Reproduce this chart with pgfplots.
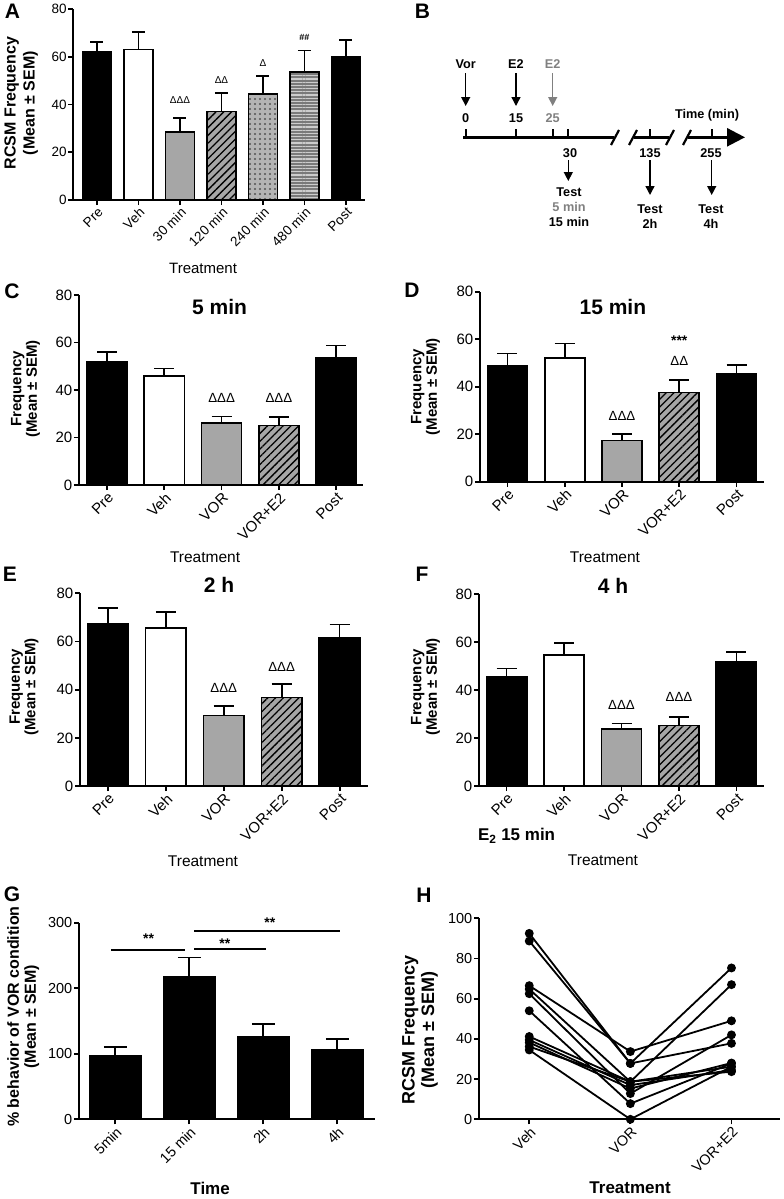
\documentclass[border=0pt]{standalone}
\usepackage{fontspec}
\setmainfont{Liberation Sans}
\usepackage{pgfplots}
\pgfplotsset{compat=1.18}
\usetikzlibrary{patterns.meta,arrows.meta}
\definecolor{bargray}{HTML}{A6A6A6}
\definecolor{midgray}{HTML}{808080}
\definecolor{dotbg}{HTML}{B4B4B4}
\definecolor{hlbg}{HTML}{7A7A7A}
\newcommand{\fs}[1]{\fontsize{#1}{#1}\selectfont}

\pgfplotsset{
  prism/.style={
    scale only axis,
    axis x line*=bottom, axis y line*=left,
    axis line style={line width=1.8pt,-},
    tick align=outside,
    major tick length=5pt,
    tick style={line width=1.8pt,black},
    enlargelimits=false,
    clip=false,
    /pgf/number format/assume math mode=true,
    xticklabel style={rotate=45,anchor=north east,inner sep=1pt},
    yticklabel style={inner sep=1.5pt},
    ylabel style={align=center,anchor=center},
    xlabel style={anchor=center},
    bar width=0.70,
  },
  pbar/.style={ybar, bar shift=0pt, draw=black, line width=1.7pt,
     /pgfplots/error bars/y dir=plus, /pgfplots/error bars/y explicit,
     /pgfplots/error bars/error bar style={line width=1.7pt,black,solid},
     /pgfplots/error bars/error mark options={rotate=90,line width=1.7pt,black,mark size=#1}},
  patbar/.style={ybar, bar shift=0pt, draw=black, line width=1.7pt},
  stripe/.style={patbar, pattern={Lines[angle=45,distance=5.5pt,line width=1.3pt]}, pattern color=black},
}

\begin{document}
\begin{tikzpicture}
\path[use as bounding box] (0,0) rectangle (784pt,-1199pt);

% panel letters
\begin{scope}[every node/.style={font=\bfseries\fs{21}}]
\node at (12.5pt,-11.7pt) {A};
\node at (422.5pt,-11.7pt) {B};
\node at (12pt,-291pt) {C};
\node at (412pt,-290pt) {D};
\node at (10pt,-574.5pt) {E};
\node at (422pt,-574.5pt) {F};
\node at (12pt,-894pt) {G};
\node at (424pt,-895.5pt) {H};
\end{scope}

%================ A
\begin{axis}[prism, at={(73.3pt,-200pt)}, anchor=south west,
  width=291.7pt, height=191.2pt,
  xmin=-0.571, xmax=6.458, ymin=0, ymax=80, ytick={0,20,40,60,80},
  xtick={0,...,6}, xticklabels={Pre,Veh,30 min,120 min,240 min,480 min,Post},
  tick label style={font=\fs{13.5}},
  xlabel={Treatment}, xlabel style={font=\fs{15}, at={(axis description cs:0.445,-0.356)}},
  ylabel={RCSM Frequency\\(Mean ± SEM)},
  ylabel style={font=\bfseries\fontsize{16}{19}\selectfont, at={(axis description cs:-0.179,0.507)}}]
\addplot[pbar=6.5pt, fill=black] coordinates {(0,62.0) +- (0,4.2)};
\addplot[pbar=6.5pt, fill=white] coordinates {(1,63.0) +- (0,7.4)};
\addplot[pbar=6.5pt, fill=bargray] coordinates {(2,28.5) +- (0,5.7)};
\addplot[pbar=6.5pt, fill=bargray] coordinates {(3,37.0) +- (0,7.9)};
\addplot[stripe] coordinates {(3,37.0)};
\addplot[pbar=6.5pt, fill=dotbg] coordinates {(4,44.4) +- (0,7.6)};
\addplot[patbar, pattern={Dots[distance=5pt,radius=1.05pt]}, pattern color=black!68] coordinates {(4,44.4)};
\addplot[pbar=6.5pt, fill=hlbg] coordinates {(5,53.6) +- (0,8.9)};
\addplot[patbar, pattern={Lines[angle=0,distance=3.2pt,line width=1.2pt]}, pattern color=white!80!black] coordinates {(5,53.6)};
\addplot[pbar=6.5pt, fill=black] coordinates {(6,60.0) +- (0,7.0)};
\node[font=\fs{10}] at (axis cs:2,42) {ΔΔΔ};
\node[font=\fs{10}] at (axis cs:3,50) {ΔΔ};
\node[font=\fs{10}] at (axis cs:4,57.2) {Δ};
\node[font=\bfseries\fs{9}] at (axis cs:5,68.2) {\#\#};
\end{axis}

%================ B
\begin{axis}[at={(400pt,0pt)}, anchor=north west, scale only axis,
  width=384pt, height=280pt, xmin=400, xmax=784, ymin=0, ymax=280,
  y dir=reverse, hide axis, clip=false]
\addplot[line width=2.6pt] coordinates {(463.3,137.3) (614,137.3)};
\addplot[line width=2.6pt] coordinates {(634,137.3) (669,137.3)};
\addplot[line width=2.6pt, -{Triangle[length=18pt,width=18pt]}] coordinates {(688,137.3) (745,137.3)};
\addplot[line width=2.2pt] coordinates {(611,145) (619,130)};
\addplot[line width=2.2pt] coordinates {(629,145) (637,130)};
\addplot[line width=2.2pt] coordinates {(666,145) (674,130)};
\addplot[line width=2.2pt] coordinates {(683,145) (691,130)};
\addplot[line width=2.2pt] coordinates {(465.7,137.3) (465.7,128.5)};
\addplot[line width=2.2pt] coordinates {(516,137.3) (516,128.5)};
\addplot[line width=2.2pt] coordinates {(552.7,137.3) (552.7,128.5)};
\addplot[line width=2.2pt] coordinates {(568.3,137.3) (568.3,128.5)};
\addplot[line width=2.2pt] coordinates {(650,137.3) (650,128.5)};
\addplot[line width=2.2pt] coordinates {(711.7,137.3) (711.7,128.5)};
\addplot[line width=1.4pt, -{Triangle[length=9pt,width=9pt]}] coordinates {(465.7,73) (465.7,106)};
\addplot[line width=1.4pt, -{Triangle[length=9pt,width=9pt]}] coordinates {(516,73) (516,106)};
\addplot[line width=1.4pt, midgray, -{Triangle[length=9pt,width=9pt]}] coordinates {(552.7,73) (552.7,106)};
\addplot[line width=1.4pt, -{Triangle[length=9pt,width=9pt]}] coordinates {(568.3,160) (568.3,181)};
\addplot[line width=1.4pt, -{Triangle[length=9pt,width=9pt]}] coordinates {(650,160) (650,195)};
\addplot[line width=1.4pt, -{Triangle[length=9pt,width=9pt]}] coordinates {(711.7,160) (711.7,195)};
\begin{scope}[every node/.style={font=\bfseries\fs{12.7}}]
\node at (axis cs:465.7,64) {Vor};
\node at (axis cs:516,64) {E2};
\node[text=midgray] at (axis cs:552.7,64) {E2};
\node at (axis cs:465.7,118) {0};
\node at (axis cs:516,118) {15};
\node[text=midgray] at (axis cs:552.7,118) {25};
\node at (axis cs:707,115) {Time (min)};
\node at (axis cs:570,153) {30};
\node at (axis cs:650,153) {135};
\node at (axis cs:711,153) {255};
\node at (axis cs:569,191.7) {Test};
\node[text=midgray] at (axis cs:569,206.7) {5 min};
\node at (axis cs:569,221.7) {15 min};
\node at (axis cs:650,209.3) {Test};
\node at (axis cs:650,224) {2h};
\node at (axis cs:711,209.3) {Test};
\node at (axis cs:711,224) {4h};
\end{scope}
\end{axis}

%================ C
\begin{axis}[prism, at={(79pt,-485pt)}, anchor=south west,
  width=284pt, height=190pt,
  xmin=-0.49, xmax=4.47, ymin=0, ymax=80, ytick={0,20,40,60,80},
  xtick={0,...,4}, xticklabels={Pre,Veh,VOR,VOR+E2,Post},
  tick label style={font=\fs{15}},
  xlabel={Treatment}, xlabel style={font=\fs{15.5}, at={(axis description cs:0.444,-0.379)}},
  ylabel={Frequency\\(Mean ± SEM)},
  ylabel style={font=\bfseries\fontsize{15}{15.5}\selectfont, at={(axis description cs:-0.188,0.505)}},
  title={5 min}, title style={font=\bfseries\fs{21}, at={(axis description cs:0.495,0.905)}, anchor=center}]
\addplot[pbar=10pt, fill=black] coordinates {(0,51.8) +- (0,4.2)};
\addplot[pbar=10pt, fill=white] coordinates {(1,46.0) +- (0,3.0)};
\addplot[pbar=10pt, fill=bargray] coordinates {(2,26.0) +- (0,2.8)};
\addplot[pbar=10pt, fill=bargray] coordinates {(3,25.1) +- (0,3.4)};
\addplot[stripe] coordinates {(3,25.1)};
\addplot[pbar=10pt, fill=black] coordinates {(4,53.6) +- (0,5.1)};
\node[font=\fs{13.3}] at (axis cs:2,36.5) {ΔΔΔ};
\node[font=\fs{13.3}] at (axis cs:3,36.5) {ΔΔΔ};
\end{axis}

%================ D
\begin{axis}[prism, at={(480pt,-481.7pt)}, anchor=south west,
  width=284pt, height=190pt,
  xmin=-0.48, xmax=4.48, ymin=0, ymax=80, ytick={0,20,40,60,80},
  xtick={0,...,4}, xticklabels={Pre,Veh,VOR,VOR+E2,Post},
  tick label style={font=\fs{15}},
  xlabel={Treatment}, xlabel style={font=\fs{15.5}, at={(axis description cs:0.44,-0.396)}},
  ylabel={Frequency\\(Mean ± SEM)},
  ylabel style={font=\bfseries\fontsize{15}{15.5}\selectfont, at={(axis description cs:-0.192,0.5)}},
  title={15 min}, title style={font=\bfseries\fs{21}, at={(axis description cs:0.468,0.89)}, anchor=center}]
\addplot[pbar=10pt, fill=black] coordinates {(0,48.7) +- (0,5.3)};
\addplot[pbar=10pt, fill=white] coordinates {(1,52.2) +- (0,6.0)};
\addplot[pbar=10pt, fill=bargray] coordinates {(2,17.4) +- (0,2.7)};
\addplot[pbar=10pt, fill=bargray] coordinates {(3,37.6) +- (0,5.2)};
\addplot[stripe] coordinates {(3,37.6)};
\addplot[pbar=10pt, fill=black] coordinates {(4,45.3) +- (0,3.7)};
\node[font=\fs{13.3}] at (axis cs:2,27.6) {ΔΔΔ};
\node[font=\fs{13.3}] at (axis cs:3,50.8) {ΔΔ};
\node[font=\bfseries\fs{14}] at (axis cs:3,59.5) {***};
\end{axis}

%================ E
\begin{axis}[prism, at={(80pt,-786pt)}, anchor=south west,
  width=288pt, height=192.7pt,
  xmin=-0.48, xmax=4.49, ymin=0, ymax=80, ytick={0,20,40,60,80},
  xtick={0,...,4}, xticklabels={Pre,Veh,VOR,VOR+E2,Post},
  tick label style={font=\fs{15}},
  xlabel={Treatment}, xlabel style={font=\fs{15.5}, at={(axis description cs:0.427,-0.393)}},
  ylabel={Frequency\\(Mean ± SEM)},
  ylabel style={font=\bfseries\fontsize{15}{15.5}\selectfont, at={(axis description cs:-0.194,0.514)}},
  title={2 h}, title style={font=\bfseries\fs{21}, at={(axis description cs:0.483,1.015)}, anchor=center}]
\addplot[pbar=10pt, fill=black] coordinates {(0,67.3) +- (0,6.7)};
\addplot[pbar=10pt, fill=white] coordinates {(1,65.7) +- (0,6.5)};
\addplot[pbar=10pt, fill=bargray] coordinates {(2,29.3) +- (0,3.9)};
\addplot[pbar=10pt, fill=bargray] coordinates {(3,36.8) +- (0,5.6)};
\addplot[stripe] coordinates {(3,36.8)};
\addplot[pbar=10pt, fill=black] coordinates {(4,61.6) +- (0,5.4)};
\node[font=\fs{13.3}] at (axis cs:2,40.8) {ΔΔΔ};
\node[font=\fs{13.3}] at (axis cs:3,49.6) {ΔΔΔ};
\end{axis}

%================ F
\begin{axis}[prism, at={(479pt,-786pt)}, anchor=south west,
  width=285pt, height=191.7pt,
  xmin=-0.48, xmax=4.48, ymin=0, ymax=80, ytick={0,20,40,60,80},
  xtick={0,...,4}, xticklabels={Pre,Veh,VOR,VOR+E2,Post},
  tick label style={font=\fs{15}},
  xlabel={Treatment}, xlabel style={font=\fs{15.5}, at={(axis description cs:0.435,-0.386)}},
  ylabel={Frequency\\(Mean ± SEM)},
  ylabel style={font=\bfseries\fontsize{15}{15.5}\selectfont, at={(axis description cs:-0.188,0.516)}},
  title={4 h}, title style={font=\bfseries\fs{21}, at={(axis description cs:0.47,1.015)}, anchor=center}]
\addplot[pbar=10pt, fill=black] coordinates {(0,45.6) +- (0,3.5)};
\addplot[pbar=10pt, fill=white] coordinates {(1,54.8) +- (0,5.0)};
\addplot[pbar=10pt, fill=bargray] coordinates {(2,23.8) +- (0,2.3)};
\addplot[pbar=10pt, fill=bargray] coordinates {(3,25.2) +- (0,3.7)};
\addplot[stripe] coordinates {(3,25.2)};
\addplot[pbar=10pt, fill=black] coordinates {(4,51.7) +- (0,4.3)};
\node[font=\fs{13.3}] at (axis cs:2,33.8) {ΔΔΔ};
\node[font=\fs{13.3}] at (axis cs:3,37.3) {ΔΔΔ};
\node[font=\bfseries\fs{17}] at (axis description cs:0.132,-0.261) {E\textsubscript{2} 15 min};
\end{axis}

%================ G
\begin{axis}[prism, at={(79pt,-1119.3pt)}, anchor=south west,
  width=296pt, height=196.7pt,
  xmin=-0.49, xmax=3.51, ymin=0, ymax=300, ytick={0,100,200,300},
  xtick={0,...,3}, xticklabels={5min,15 min,2h,4h},
  tick label style={font=\fs{14.5}},
  xlabel={Time}, xlabel style={font=\bfseries\fs{17}, at={(axis description cs:0.443,-0.349)}},
  ylabel={\% behavior of VOR condition\\(Mean ± SEM)},
  ylabel style={font=\bfseries\fontsize{16}{17}\selectfont, at={(axis description cs:-0.188,0.522)}}]
\addplot[pbar=11.5pt, fill=black] coordinates {(0,96.6) +- (0,13.2)};
\addplot[pbar=11.5pt, fill=black] coordinates {(1,217.6) +- (0,29.0)};
\addplot[pbar=11.5pt, fill=black] coordinates {(2,126.1) +- (0,18.8)};
\addplot[pbar=11.5pt, fill=black] coordinates {(3,105.8) +- (0,16.7)};
\addplot[line width=1.8pt] coordinates {(-0.057,258.3) (0.94,258.3)};
\addplot[line width=1.8pt] coordinates {(1.07,259.8) (2.04,259.8)};
\addplot[line width=1.8pt] coordinates {(1.07,287.8) (3.04,287.8)};
\node[font=\bfseries\fs{14}] at (axis cs:0.45,275) {**};
\node[font=\bfseries\fs{14}] at (axis cs:1.48,268) {**};
\node[font=\bfseries\fs{14}] at (axis cs:2.09,300) {**};
\end{axis}

%================ H
\begin{axis}[prism, at={(479pt,-1119.3pt)}, anchor=south west,
  width=301pt, height=201pt,
  xmin=-0.497, xmax=2.48, ymin=0, ymax=100, ytick={0,20,40,60,80,100},
  xtick={0,1,2}, xticklabels={Veh,VOR,VOR+E2},
  tick label style={font=\fs{14.5}},
  xlabel={Treatment}, xlabel style={font=\bfseries\fs{17}, at={(axis description cs:0.502,-0.341)}},
  ylabel={RCSM Frequency\\(Mean ± SEM)},
  ylabel style={font=\bfseries\fontsize{18}{19.5}\selectfont, at={(axis description cs:-0.196,0.444)}},
  subj/.style={black, solid, line width=1.8pt, mark=*, mark size=3.5pt, mark options={solid,fill=black,draw=black}}]
\addplot[subj] coordinates {(0,92.5) (1,27.8) (2,75.3)};
\addplot[subj] coordinates {(0,88.7) (1,27.8) (2,37.8)};
\addplot[subj] coordinates {(0,66.5) (1,33.7) (2,49.0)};
\addplot[subj] coordinates {(0,64.8) (1,18.7) (2,67.0)};
\addplot[subj] coordinates {(0,62.5) (1,12.8) (2,42.0)};
\addplot[subj] coordinates {(0,54.0) (1,7.8) (2,27.8)};
\addplot[subj] coordinates {(0,41.2) (1,18.7) (2,26.2)};
\addplot[subj] coordinates {(0,39.5) (1,17.0) (2,24.5)};
\addplot[subj] coordinates {(0,38.2) (1,15.3) (2,28.0)};
\addplot[subj] coordinates {(0,36.2) (1,18.7) (2,23.7)};
\addplot[subj] coordinates {(0,34.5) (1,0.0) (2,26.2)};
\end{axis}
\end{tikzpicture}
\end{document}
